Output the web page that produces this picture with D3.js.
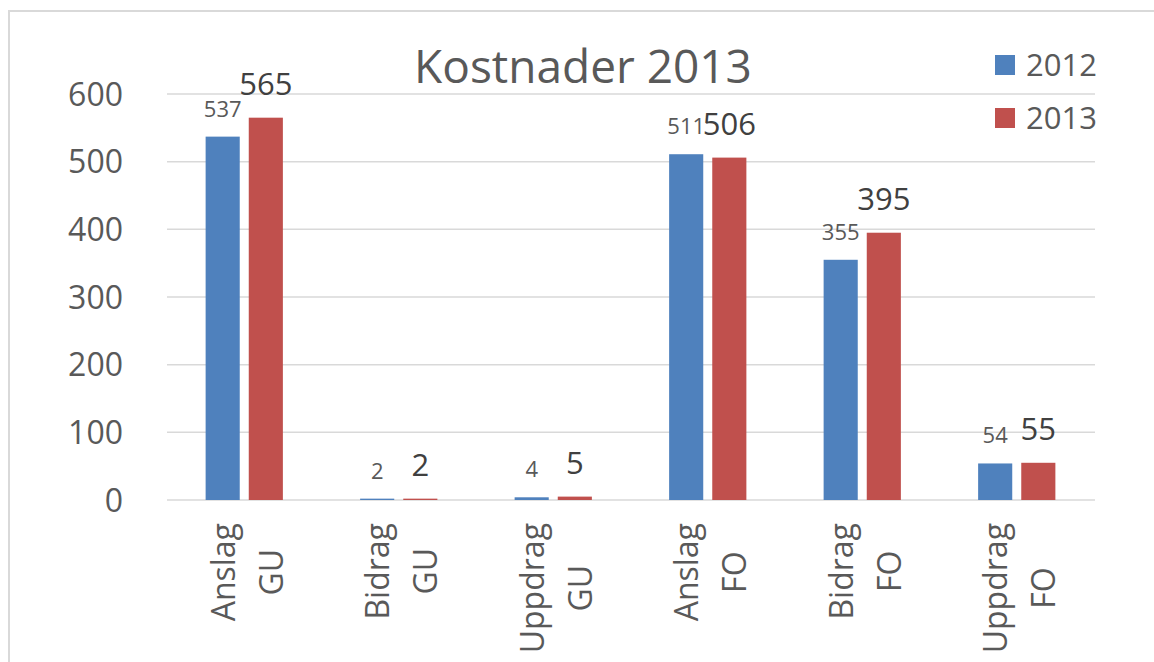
<!DOCTYPE html>
<html>
<head>
<meta charset="utf-8">
<script src="https://cdn.jsdelivr.net/npm/d3@7"></script>
<style>
  html, body { margin: 0; padding: 0; background: #fff; }
  svg { display: block; font-family: "Open Sans", sans-serif; }
</style>
</head>
<body>
<svg id="chart" width="1154" height="662"></svg>
<script>
const categories = [["Anslag", "GU"], ["Bidrag", "GU"], ["Uppdrag", "GU"], ["Anslag", "FO"], ["Bidrag", "FO"], ["Uppdrag", "FO"]];
const seriesNames = ["2012", "2013"];
const values2012 = [537, 2, 4, 511, 355, 54];
const values2013 = [565, 2, 5, 506, 395, 55];
const yTicks = [0, 100, 200, 300, 400, 500, 600];
const title = "Kostnader 2013";
const colors = ["#4f81bd", "#c0504d"];

(function () {
const svg = d3.select("#chart");
const textColor = "#595959";

// border
svg.append("rect").attr("x", 9).attr("y", 11).attr("width", 1200).attr("height", 700)
  .attr("fill", "none").attr("stroke", "#d9d9d9").attr("stroke-width", 2);

const plotLeft = 167, plotRight = 1094, plotTop = 94, plotBottom = 500;
const catKeys = categories.map((c, i) => i);
const x0 = d3.scaleBand().domain(catKeys).range([plotLeft, plotRight]).paddingInner(0.5).paddingOuter(0.25);
const x1 = d3.scaleBand().domain(seriesNames).range([0, x0.bandwidth()]).paddingInner(0.209);
const y = d3.scaleLinear().domain([0, 600]).range([plotBottom, plotTop]);

// gridlines
svg.append("g").selectAll("line").data(yTicks).join("line")
  .attr("x1", plotLeft).attr("x2", plotRight + 1)
  .attr("y1", d => y(d)).attr("y2", d => y(d))
  .attr("stroke", "#d9d9d9").attr("stroke-width", 1.5);

// y axis labels
const yAxis = d3.axisLeft(y).tickValues(yTicks).tickSize(0).tickPadding(0);
const gy = svg.append("g").attr("transform", `translate(123,0)`).call(yAxis);
gy.select(".domain").remove();
gy.selectAll("text").attr("fill", textColor).style("font-size", "32px")
  .style("font-family", "'Open Sans', sans-serif").attr("dy", "0.35em");

// bars
const seriesData = [values2012, values2013];
const groups = svg.append("g").selectAll("g").data(catKeys).join("g")
  .attr("transform", d => `translate(${x0(d)},0)`);

groups.selectAll("rect").data(i => seriesNames.map((s, k) => ({ s, k, v: seriesData[k][i] })))
  .join("rect")
  .attr("x", d => x1(d.s)).attr("width", x1.bandwidth())
  .attr("y", d => y(d.v)).attr("height", d => y(0) - y(d.v))
  .attr("fill", d => colors[d.k]);

// data labels
groups.selectAll("text.lbl").data(i => seriesNames.map((s, k) => ({ s, k, v: seriesData[k][i] })))
  .join("text").attr("class", "lbl")
  .attr("x", d => x1(d.s) + x1.bandwidth() / 2)
  .attr("y", d => y(d.v) - (d.k === 0 ? 20 : 23))
  .attr("text-anchor", "middle")
  .attr("fill", d => d.k === 0 ? "#595959" : "#404040")
  .style("font-size", d => d.k === 0 ? "22px" : "31px")
  .text(d => d.v);

// x labels
const xl = svg.append("g").selectAll("text").data(catKeys).join("text")
  .attr("fill", textColor).style("font-size", "32px").attr("text-anchor", "middle");
xl.each(function(i) {
  const t = d3.select(this);
  t.append("tspan").attr("x", 0).attr("y", -9.5).text(categories[i][0]);
  t.append("tspan").attr("x", 0).attr("y", 38.5).text(categories[i][1]);
  const w = this.getBBox().width;
  const cx = x0(i) + x0.bandwidth() / 2;
  t.attr("transform", `translate(${cx},${523 + w / 2}) rotate(-90)`);
});

// title
svg.append("text").attr("x", 583).attr("y", 83).attr("text-anchor", "middle")
  .attr("fill", textColor).style("font-size", "46px").text(title);

// legend
const lg = svg.append("g").selectAll("g").data(seriesNames).join("g")
  .attr("transform", (d, i) => `translate(995,${55 + i * 53})`);
lg.append("rect").attr("width", 20).attr("height", 20).attr("fill", (d, i) => colors[i]);
lg.append("text").attr("x", 31).attr("y", 10).attr("dy", "0.35em")
  .attr("fill", textColor).style("font-size", "31px").text(d => d);
})();
</script>
</body>
</html>
